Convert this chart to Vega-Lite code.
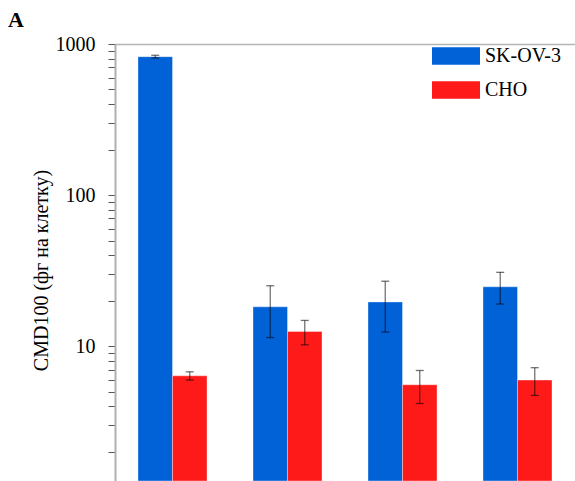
{
  "$schema": "https://vega.github.io/schema/vega-lite/v6.json",
  "width": 460,
  "height": 437,
  "autosize": {"type": "none"},
  "padding": {"left": 115, "top": 44, "right": 0, "bottom": 0},
  "background": "white",
  "config": {
    "font": "Liberation Serif",
    "view": {"stroke": null}
  },
  "title": {
    "text": "A",
    "anchor": "start",
    "frame": "group",
    "dx": -107,
    "dy": 30,
    "offset": 13,
    "baseline": "alphabetic",
    "fontSize": 22,
    "fontWeight": "bold",
    "font": "Liberation Serif",
    "color": "black"
  },
  "data": {
    "values": [
      {"group": "g1", "series": "SK-OV-3", "value": 824, "lo": 808, "hi": 842},
      {"group": "g1", "series": "CHO", "value": 6.36, "lo": 5.96, "hi": 6.76},
      {"group": "g2", "series": "SK-OV-3", "value": 18.2, "lo": 11.4, "hi": 25.1},
      {"group": "g2", "series": "CHO", "value": 12.5, "lo": 10.2, "hi": 14.8},
      {"group": "g3", "series": "SK-OV-3", "value": 19.6, "lo": 12.4, "hi": 26.9},
      {"group": "g3", "series": "CHO", "value": 5.55, "lo": 4.17, "hi": 6.9},
      {"group": "g4", "series": "SK-OV-3", "value": 24.7, "lo": 19.0, "hi": 30.8},
      {"group": "g4", "series": "CHO", "value": 5.96, "lo": 4.72, "hi": 7.2}
    ]
  },
  "encoding": {
    "x": {
      "field": "group",
      "type": "nominal",
      "scale": {"paddingInner": 0.4, "paddingOuter": 0.2},
      "axis": {
        "orient": "top",
        "labels": false,
        "ticks": false,
        "title": null,
        "domainColor": "#b5b5b5",
        "domainWidth": 1.5
      }
    },
    "xOffset": {"field": "series", "type": "nominal", "sort": ["SK-OV-3", "CHO"]}
  },
  "layer": [
    {
      "mark": {"type": "bar", "stroke": "white", "strokeOpacity": 0.35, "strokeWidth": 1},
      "encoding": {
        "y": {
          "field": "value",
          "type": "quantitative",
          "title": "CMD100 (фг на клетку)",
          "scale": {"type": "log", "domain": [1.28, 1000], "nice": false},
          "axis": {
            "titleFontSize": 20,
            "titleFontWeight": "normal",
            "titleColor": "black",
            "titleAngle": -90,
            "titleAlign": "center",
            "titleBaseline": "middle",
            "titleX": -74,
            "titleY": 226,
            "values": [2,3,4,5,6,7,8,9,10,20,30,40,50,60,70,80,90,100,200,300,400,500,600,700,800,900,1000],
            "tickCount": 100,
            "labelExpr": "indexof([10,100,1000], datum.value) >= 0 ? format(datum.value, 'd') : ''",
            "labelOverlap": false,
            "labelFlush": false,
            "labelFontSize": 20,
            "labelColor": "black",
            "labelPadding": 13,
            "grid": false,
            "domainColor": "#b0b0b0",
            "domainWidth": 2,
            "tickColor": "#555555",
            "tickWidth": 1,
            "tickSize": 7,
            "encode": {
              "ticks": {
                "update": {
                  "x2": {"signal": "indexof([10,100,1000], datum.value) >= 0 ? -12 : -7"}
                }
              }
            }
          }
        },
        "y2": {"datum": 1.28},
        "color": {
          "field": "series",
          "type": "nominal",
          "scale": {"domain": ["SK-OV-3", "CHO"], "range": ["#0062d6", "#ff1a1a"]},
          "legend": {
            "orient": "none",
            "legendX": 317,
            "legendY": -12,
            "title": null,
            "padding": 0,
            "symbolType": "M-1,-0.36H1V0.36H-1Z",
            "symbolSize": 2304,
            "symbolStrokeWidth": 0,
            "symbolOpacity": 1,
            "labelFontSize": 20,
            "labelColor": "black",
            "labelOffset": 5,
            "rowPadding": -6,
            "labelFont": "Liberation Serif"
          }
        }
      }
    },
    {
      "mark": {"type": "rule", "color": "black", "opacity": 0.55, "strokeWidth": 1.3},
      "encoding": {
        "y": {"field": "lo", "type": "quantitative"},
        "y2": {"field": "hi"}
      }
    },
    {
      "mark": {"type": "tick", "color": "black", "opacity": 0.55, "size": 8, "thickness": 1.3},
      "encoding": {
        "y": {"field": "lo", "type": "quantitative"}
      }
    },
    {
      "mark": {"type": "tick", "color": "black", "opacity": 0.55, "size": 8, "thickness": 1.3},
      "encoding": {
        "y": {"field": "hi", "type": "quantitative"}
      }
    }
  ]
}
